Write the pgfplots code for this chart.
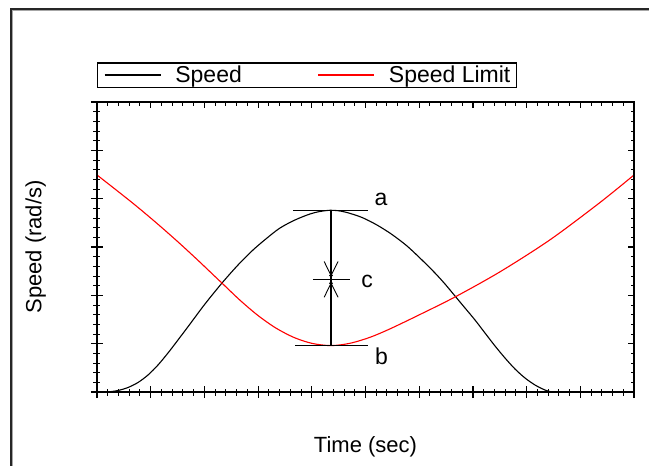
\documentclass[border=0pt]{standalone}
\usepackage{pgfplots}
\pgfplotsset{compat=1.18}
\usepackage{fontspec}
\setmainfont{Liberation Sans}

% Speed profile and speed limit over time
\pgfplotstableread{
t      v
0.205  0
0.391  0.031
0.577  0.093
0.764  0.197
0.950  0.352
1.136  0.559
1.322  0.807
1.508  1.076
1.732  1.407
2.011  1.821
2.328  2.255
2.626  2.628
2.905  2.938
3.166  3.186
3.408  3.393
3.687  3.559
3.966  3.683
4.153  3.735
4.339  3.760
4.488  3.751
4.655  3.714
4.935  3.611
5.214  3.455
5.493  3.259
5.773  3.021
6.052  2.731
6.294  2.462
6.480  2.235
6.667  1.986
6.853  1.738
7.039  1.490
7.225  1.221
7.412  0.952
7.598  0.703
7.784  0.476
7.970  0.290
8.156  0.145
8.343  0.041
8.473  0
}\speed

\pgfplotstableread{
t      v
0      4.490
0.372  4.167
0.745  3.836
1.117  3.488
1.490  3.124
1.862  2.744
2.235  2.350
2.328  2.253
2.663  1.899
2.998  1.583
3.333  1.322
3.669  1.128
4.004  1.006
4.358  0.960
4.711  1.008
5.084  1.132
5.456  1.306
6.015  1.604
6.667  1.966
7.505  2.487
8.436  3.149
9.367  3.921
10     4.490
}\limit

\pgfplotsset{
  frameaxis/.style={
    at={(97pt,-392pt)}, anchor=south west,
    width=537pt, height=290pt, scale only axis,
    xmin=0, xmax=10, ymin=0, ymax=6,
    xtick={0,...,10}, ytick={0,...,6}, minor tick num=4,
    xticklabels={}, yticklabels={},
    axis line style={line width=1.6pt},
    tick style={black, line width=1.2pt},
    minor tick style={line width=1pt},
  },
}

\begin{document}
\begin{tikzpicture}[x=1pt,y=1pt]
\path[use as bounding box] (0,0) rectangle (649,-466);
% window border
\draw[black!85, line width=2pt] (10.5,-466) -- (10.5,-9) -- (649,-9);
\draw[black!35, line width=1pt] (12,-466) -- (12,-10.5) -- (649,-10.5);

\begin{axis}[frameaxis,
  tick pos=left, tick align=center,
  major tick length=12pt, minor tick length=7pt,
  clip=false,
  xlabel={Time (sec)}, ylabel={Speed (rad/s)},
  every axis x label/.style={at={(axis description cs:0.5,0)}, anchor=base,
    yshift=-60pt, font=\fontsize{22}{26}\selectfont},
  every axis y label/.style={at={(axis description cs:0,0.5)}, xshift=-55.5pt,
    rotate=90, anchor=base, font=\fontsize{22}{26}\selectfont},
  legend columns=2,
  legend style={line width=1.5pt, draw=black,
    at={(axis description cs:0,1)}, anchor=south west, yshift=14pt,
    inner xsep=6pt, inner ysep=1pt,
    font=\fontsize{23}{27}\selectfont,
    nodes={inner xsep=0pt, inner ysep=2pt},
    /tikz/every odd column/.append style={column sep=14pt},
    /tikz/every even column/.append style={column sep=75.5pt}},
]
\addplot[draw=black, line width=1.1pt, smooth, forget plot] table[x=t, y=v] {\speed};
\addplot[draw=red, line width=1.1pt, smooth, forget plot] table[x=t, y=v] {\limit};

% legend samples for the two series
\addlegendimage{legend image code/.code={\draw[black, line width=1.6pt] (0pt,0pt) -- (56pt,0pt);}}
\addlegendentry{Speed}
\addlegendimage{legend image code/.code={\draw[red, draw=red, line width=1.6pt] (0pt,0pt) -- (56pt,0pt);}}
\addlegendentry{Speed Limit}

% difference between peak speed and minimum limit
\addplot[black, line width=1.1pt, forget plot] coordinates {(3.65,3.76) (5.05,3.76)};
\addplot[black, line width=1.1pt, forget plot] coordinates {(3.69,0.96) (5.05,0.96)};
\addplot[black, line width=1.1pt, forget plot] coordinates {(4.358,3.76) (4.358,0.96)};
\addplot[black, line width=1.1pt, forget plot] coordinates {(4.02,2.33) (4.71,2.33)};
\addplot[black, line width=0.9pt, forget plot] coordinates {(4.23,2.70) (4.358,2.41) (4.49,2.70)};
\addplot[black, line width=0.9pt, forget plot] coordinates {(4.23,1.96) (4.358,2.25) (4.49,1.96)};
\addplot[black, only marks, mark=*, mark size=1.6pt, forget plot] coordinates {(4.358,2.41) (4.358,2.25)};

\node[font=\fontsize{23}{27}\selectfont] at (axis cs:5.29,3.99) {a};
\node[font=\fontsize{23}{27}\selectfont] at (axis cs:5.30,0.74) {b};
\node[font=\fontsize{23}{27}\selectfont] at (axis cs:5.03,2.29) {c};
\end{axis}

\begin{axis}[frameaxis,
  tick pos=right, tick align=inside,
  major tick length=6pt, minor tick length=3.5pt,
]
\end{axis}
\end{tikzpicture}
\end{document}
